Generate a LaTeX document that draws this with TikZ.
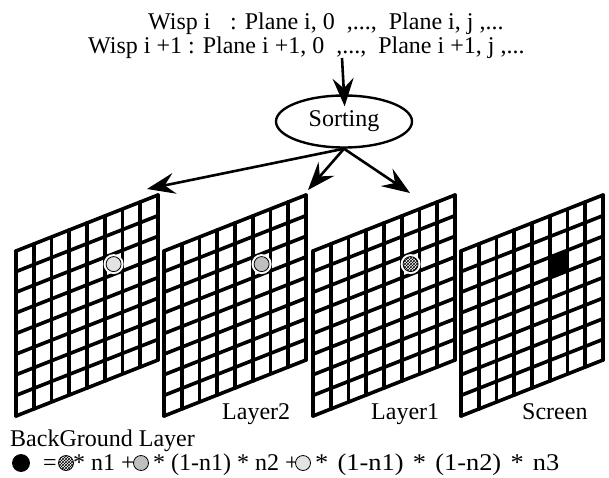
\documentclass[tikz,border=0pt]{standalone}
\usepackage{fontspec}
\setmainfont{Liberation Serif}
\usetikzlibrary{arrows.meta,shapes.geometric,patterns}
\newcommand{\panel}[1]{%
  \foreach \i in {0,...,8} {\draw[gridline] ({#1+\i*17.75},{251-\i*7}) -- ++(0,165);}
  \foreach \j in {0,...,8} {\draw[gridline] (#1,{251+\j*20.625}) -- ++(142,-56);}
}
\begin{document}
\begin{tikzpicture}[x=1pt,y=-1pt,
  lbl/.style={inner sep=0pt, anchor=base west, font=\fontsize{24}{28}\selectfont},
  gridline/.style={line width=3.6pt, line cap=round, line join=round},
  arr/.style={line width=2.6pt, -{Stealth[length=28pt,width=21pt,inset=10pt]}},
  dotbase/.style={circle, draw=black, line width=0.8pt, minimum size=15pt, inner sep=0pt},
  dotlight/.style={dotbase, fill=gray!22},
  dotmid/.style={dotbase, fill=gray!50},
  dotcheck/.style={dotbase, pattern=crosshatch, pattern color=black},
  dotblack/.style={dotbase, fill=black, minimum size=17pt},
  halo/.style={circle, fill=white, minimum size=20pt, inner sep=0pt}
]
\useasboundingbox (0,0) rectangle (609,477);

% header text
\node[lbl] (h1a) at (148,29) {Wisp i};
\node[lbl] (h1b) at (230,29) {: Plane i, 0\ \ ,...,\ \ Plane i, j ,...};
\node[lbl] (h2) at (88,53) {Wisp i +1 : Plane i +1, 0\ \ ,...,\ \ Plane i +1, j ,...};

% sorting
\node[ellipse, draw, line width=2.4pt, minimum width=136pt, minimum height=52pt, inner sep=0pt,
      font=\fontsize{24}{28}\selectfont] (sort) at (344,121.5) {Sorting};
\coordinate (src) at (342,58);
\draw[arr, shorten >=-12pt] (src) -- (sort.north);

% panels
\panel{16}
\panel{164}
\panel{313}
\panel{461}

% highlighted cells
\node[halo] at (113.6,264.1) {};
\node[dotlight] (p1) at (113.6,264.1) {};
\node[halo] at (261.6,264.1) {};
\node[dotmid] (p2) at (261.6,264.1) {};
\node[halo] at (410.6,264.1) {};
\node[dotcheck] (p3) at (410.6,264.1) {};
\fill (549.75,257.25) -- (567.5,250.25) -- (567.5,270.875) -- (549.75,277.875) -- cycle;

% arrows from sorting
\coordinate (t1) at (147,189);
\coordinate (t2) at (308,190);
\coordinate (t3) at (410,193);
\draw[arr] (sort.south) -- (t1);
\draw[arr] (sort.south) -- (t2);
\draw[arr] (sort.south) -- (t3);

% labels
\node[lbl] (l2) at (222,419) {Layer2};
\node[lbl] (l1) at (371,419) {Layer1};
\node[lbl] (ls) at (522,419) {Screen};
\node[lbl] (lb) at (10,446) {BackGround Layer};

% formula
\node[dotblack] (f0) at (21,463) {};
\node[lbl] (feq) at (43,470) {=};
\node[dotcheck] (f1) at (66,463) {};
\node[lbl] (fa) at (73,470) {* n1 +};
\node[dotmid] (f2) at (141,463) {};
\node[lbl] (fb) at (153,470) {* (1-n1) * n2 +};
\node[dotlight] (f3) at (303,463) {};
\node[lbl] (fc) at (315,470) {\scalebox{1.1}[1]{\spaceskip=0.35em * (1-n1) * (1-n2) * n3}};
\end{tikzpicture}
\end{document}
